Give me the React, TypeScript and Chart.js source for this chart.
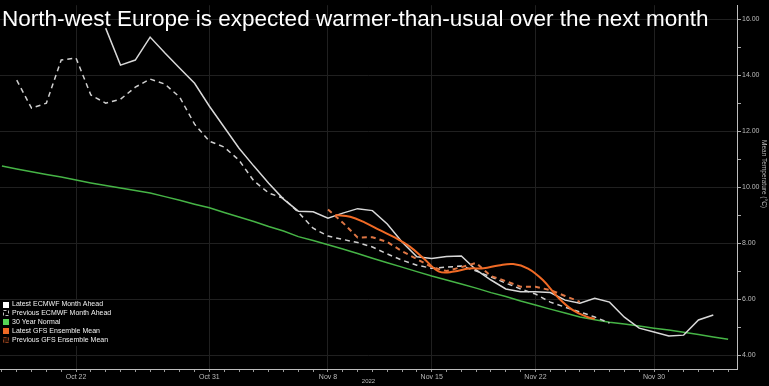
import React, { useEffect, useRef } from "react";
import { Chart, registerables } from "chart.js";
Chart.register(...registerables);

// x values are day numbers counted from Oct 1 (Oct 22 = 21, Nov 30 = 60)
const TITLE = "North-west Europe is expected warmer-than-usual over the next month";
const Y_TITLE = "Mean Temperature (°C)";
const X_TITLE = "2022";

const X_TICK_DAYS = [21, 30, 38, 45, 52, 60];
const X_TICK_LABELS = ["Oct 22", "Oct 31", "Nov 8", "Nov 15", "Nov 22", "Nov 30"];
const ALL_DAYS = [16,17,18,19,20,21,22,23,24,25,26,27,28,29,30,31,32,33,34,35,36,37,38,39,40,41,42,43,44,45,46,47,48,49,50,51,52,53,54,55,56,57,58,59,60,61,62,63,64,65];
const Y_TICKS = [4,5,6,7,8,9,10,11,12,13,14,15,16];

const SERIES_NAMES = [
  "Latest ECMWF Month Ahead",
  "Previous ECMWF Month Ahead",
  "30 Year Normal",
  "Latest GFS Ensemble Mean",
  "Previous GFS Ensemble Mean",
];

// 30 Year Normal
const NORMAL_DAYS = ALL_DAYS;
const NORMAL = [10.75,10.65,10.55,10.45,10.36,10.25,10.15,10.06,9.97,9.88,9.79,9.66,9.53,9.39,9.26,9.09,8.93,8.77,8.59,8.43,8.23,8.09,7.94,7.79,7.63,7.46,7.30,7.14,6.98,6.82,6.68,6.54,6.39,6.23,6.09,5.93,5.79,5.64,5.50,5.36,5.26,5.17,5.11,5.04,4.96,4.89,4.81,4.73,4.64,4.56];

// Latest ECMWF Month Ahead
const ECMWF_LATEST_DAYS = [23,24,25,26,27,28,29,30,31,32,33,34,35,36,37,38,39,40,41,42,43,44,45,46,47,48,49,50,51,52,53,54,55,56,57,58,59,60,61,62,63,64];
const ECMWF_LATEST = [15.68,14.36,14.54,15.36,14.79,14.25,13.71,12.89,12.14,11.39,10.75,10.14,9.57,9.14,9.12,8.89,9.07,9.23,9.16,8.68,8.04,7.51,7.45,7.52,7.54,7.04,6.68,6.36,6.26,6.26,6.23,5.96,5.85,6.03,5.89,5.35,4.96,4.82,4.68,4.71,5.25,5.43];

// Previous ECMWF Month Ahead
const ECMWF_PREV_DAYS = [17,18,19,20,21,22,23,24,25,26,27,28,29,30,31,32,33,34,35,36,37,38,39,40,41,42,43,44,45,46,47,48,49,50,51,52,53,54,55,56,57];
const ECMWF_PREV = [13.82,12.82,13.0,14.54,14.61,13.29,13.0,13.14,13.57,13.86,13.68,13.21,12.25,11.64,11.43,10.96,10.22,9.79,9.6,9.1,8.53,8.25,8.13,8.02,7.86,7.61,7.39,7.21,7.10,7.14,7.18,7.0,6.79,6.57,6.36,6.18,5.89,5.71,5.54,5.36,5.14];

// Latest GFS Ensemble Mean
const GFS_LATEST_DAYS = [38.5,39.5,40.5,41.5,42.5,43.5,44.5,45.5,46.5,47.5,48.5,49.5,50.5,51.5,52.5,53.5,54.5,55.5,56];
const GFS_LATEST = [9.0,8.94,8.73,8.46,8.20,7.88,7.43,6.98,6.98,7.09,7.10,7.20,7.25,7.09,6.68,6.07,5.61,5.36,5.29];

// Previous GFS Ensemble Mean
const GFS_PREV_DAYS = [38,39,40,41,42,43,44,45,46,47,48,49,50,51,52,53,54,55];
const GFS_PREV = [9.20,8.73,8.20,8.21,8.04,7.71,7.43,7.14,7.0,7.14,7.29,6.82,6.64,6.44,6.44,6.32,6.11,5.90];

const X_MIN = 15.87;
const X_MAX = 65.6;
const Y_MIN = 3.5;
const Y_MAX = 16.5;

const C_WHITE = "#d8d8d8";
const C_WHITE_DASH = "#cfcfcf";
const C_GREEN = "#46b446";
const C_ORANGE = "#f06a25";
const C_ORANGE_DASH = "#de7644";
const C_GRID = "#202020";

const pts = (xs: number[], ys: number[]) => xs.map((x, i) => ({ x, y: ys[i] }));

const overlayPlugin = {
  id: "overlay",
  afterDraw(chart: any) {
    const ctx = chart.ctx;
    ctx.save();
    // Title
    ctx.fillStyle = "#ffffff";
    ctx.font = '22.5px "Liberation Sans", Arial, sans-serif';
    ctx.textAlign = "left";
    ctx.textBaseline = "alphabetic";
    ctx.fillText(TITLE, 2, 26);

    // Y axis title
    ctx.save();
    ctx.translate(764, 174);
    ctx.rotate(Math.PI / 2);
    ctx.fillStyle = "#bbbbbb";
    ctx.font = '6.5px "Liberation Sans", Arial, sans-serif';
    ctx.textAlign = "center";
    ctx.textBaseline = "middle";
    ctx.fillText(Y_TITLE, 0, 0);
    ctx.restore();

    // Legend
    ctx.fillStyle = "#000000";
    ctx.fillRect(0, 300, 106, 46);
    const y0 = 304.5;
    const step = 8.9;
    ctx.font = '7px "Liberation Sans", Arial, sans-serif';
    ctx.textBaseline = "middle";
    SERIES_NAMES.forEach((name, i) => {
      const cy = y0 + i * step;
      const bx = 3, by = Math.round(cy - 3), bs = 6;
      ctx.setLineDash([]);
      ctx.lineWidth = 1;
      if (i === 0) {
        ctx.fillStyle = "#ffffff";
        ctx.fillRect(bx, by, bs, bs);
      } else if (i === 1) {
        ctx.strokeStyle = "#bbbbbb";
        ctx.setLineDash([3, 2]);
        ctx.strokeRect(bx + 0.5, by + 0.5, bs - 1, bs - 1);
      } else if (i === 2) {
        ctx.fillStyle = "#55d455";
        ctx.fillRect(bx, by, bs, bs);
      } else if (i === 3) {
        ctx.fillStyle = C_ORANGE;
        ctx.fillRect(bx, by, bs, bs);
      } else {
        ctx.fillStyle = "#2a1206";
        ctx.fillRect(bx, by, bs, bs);
        ctx.strokeStyle = "#8a3d1c";
        ctx.setLineDash([3, 2]);
        ctx.strokeRect(bx + 0.5, by + 0.5, bs - 1, bs - 1);
      }
      ctx.setLineDash([]);
      ctx.fillStyle = "#f0f0f0";
      ctx.fillText(name, 12, cy);
    });
    ctx.restore();
  },
};

export default function App() {
  const ref = useRef<HTMLCanvasElement | null>(null);
  useEffect(() => {
    if (!ref.current) return;
    const chart = new Chart(ref.current, {
      type: "line",
      data: {
        datasets: [
          {
            label: SERIES_NAMES[3],
            data: pts(GFS_LATEST_DAYS, GFS_LATEST),
            borderColor: C_ORANGE,
            borderWidth: 2,
            tension: 0.4,
            order: 0,
          },
          {
            label: SERIES_NAMES[4],
            data: pts(GFS_PREV_DAYS, GFS_PREV),
            borderColor: C_ORANGE_DASH,
            borderWidth: 2,
            borderDash: [5, 4],
            order: 1,
          },
          {
            label: SERIES_NAMES[0],
            data: pts(ECMWF_LATEST_DAYS, ECMWF_LATEST),
            borderColor: C_WHITE,
            borderWidth: 1.5,
            order: 2,
          },
          {
            label: SERIES_NAMES[1],
            data: pts(ECMWF_PREV_DAYS, ECMWF_PREV),
            borderColor: C_WHITE_DASH,
            borderWidth: 1.5,
            borderDash: [5, 4],
            order: 3,
          },
          {
            label: SERIES_NAMES[2],
            data: pts(NORMAL_DAYS, NORMAL),
            borderColor: C_GREEN,
            borderWidth: 1.5,
            order: 4,
          },
        ] as any,
      },
      options: {
        animation: false,
        responsive: false,
        maintainAspectRatio: false,
        layout: { padding: { top: 5, left: 0, right: 0, bottom: 0 } },
        elements: { point: { radius: 0, hoverRadius: 0 }, line: { fill: false } },
        plugins: {
          legend: { display: false },
          title: { display: false },
          tooltip: { enabled: false },
        },
        scales: {
          x: {
            type: "linear",
            min: X_MIN,
            max: X_MAX,
            afterBuildTicks: (axis: any) => {
              axis.ticks = ALL_DAYS.map((v) => ({ value: v }));
            },
            afterFit: (axis: any) => {
              axis.height = 17;
            },
            grid: {
              color: (c: any) =>
                c.tick && X_TICK_DAYS.includes(c.tick.value) ? C_GRID : "rgba(0,0,0,0)",
              tickColor: "#999999",
              tickLength: 3,
              lineWidth: 1,
            },
            border: { color: "#bdbdbd", width: 1 },
            ticks: {
              autoSkip: false,
              maxRotation: 0,
              minRotation: 0,
              padding: 1,
              color: "#bbbbbb",
              font: { family: '"Liberation Sans", Arial, sans-serif', size: 7 },
              callback: (v: any) => {
                const i = X_TICK_DAYS.indexOf(Number(v));
                return i >= 0 ? X_TICK_LABELS[i] : "";
              },
            },
            title: {
              display: true,
              text: X_TITLE,
              color: "#bbbbbb",
              font: { family: '"Liberation Sans", Arial, sans-serif', size: 6 },
              padding: { top: 0, bottom: 1 },
            },
          },
          y: {
            type: "linear",
            position: "right",
            min: Y_MIN,
            max: Y_MAX,
            afterBuildTicks: (axis: any) => {
              axis.ticks = Y_TICKS.map((v) => ({ value: v }));
            },
            afterFit: (axis: any) => {
              axis.width = 32;
            },
            grid: {
              color: (c: any) =>
                c.tick && c.tick.value % 2 === 0 ? C_GRID : "rgba(0,0,0,0)",
              tickColor: "#aaaaaa",
              tickLength: 4,
              lineWidth: 1,
            },
            border: { color: "#bdbdbd", width: 1 },
            ticks: {
              padding: 1,
              color: "#bbbbbb",
              font: { family: '"Liberation Sans", Arial, sans-serif', size: 7 },
              callback: (v: any) => (Number(v) % 2 === 0 ? Number(v).toFixed(2) : ""),
            },
          },
        },
      } as any,
      plugins: [overlayPlugin],
    });
    return () => chart.destroy();
  }, []);

  return (
    <div
      style={{
        position: "absolute",
        left: 0,
        top: 0,
        width: 769,
        height: 386,
        background: "#000000",
      }}
    >
      <canvas ref={ref} width={769} height={386} style={{ display: "block", width: 769, height: 386 }} />
    </div>
  );
}
